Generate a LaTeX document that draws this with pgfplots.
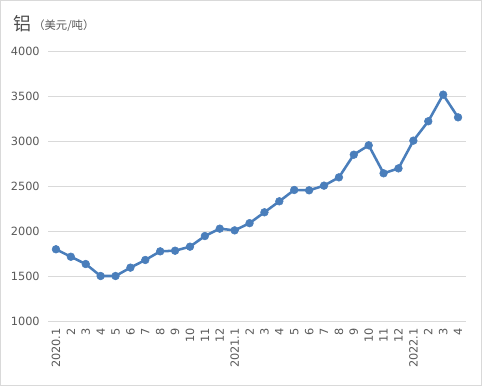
\documentclass[border=0pt]{standalone}
\usepackage{pgfplots}
\pgfplotsset{compat=1.18}
\usepackage{fontspec}
\setmainfont{DejaVu Sans}
\newfontfamily\cjk{Noto Sans CJK SC}
\definecolor{lineblue}{RGB}{74,126,187}
\definecolor{gridgray}{RGB}{217,217,217}
\definecolor{ticktext}{RGB}{89,89,89}
\begin{document}
\begin{tikzpicture}
\path[use as bounding box] (0,0) rectangle (361.5pt,289.5pt);
\draw[gridgray, line width=0.75pt] (0.375pt,0.375pt) rectangle (361.125pt,289.125pt);
\node[anchor=base west, inner sep=0pt, text=black!70] at (9.75pt,266.5pt) {\cjk\fontsize{13.5pt}{15pt}\selectfont 铝};
\node[anchor=base west, inner sep=0pt, text=ticktext] at (24.75pt,267pt) {\cjk\fontsize{8.5pt}{10pt}\selectfont （美元/吨）};
\begin{axis}[
  at={(36.375pt,48.75pt)}, anchor=south west,
  scale only axis,
  width=312.75pt, height=202.5pt,
  xmin=-0.5, xmax=27.5,
  ymin=1000, ymax=4000,
  ytick={1000,1500,...,4000},
  xtick={0,...,27},
  xticklabels={2020.1,2,3,4,5,6,7,8,9,10,11,12,2021.1,2,3,4,5,6,7,8,9,10,11,12,2022.1,2,3,4},
  axis line style={draw=none},
  major tick length=0pt,
  ymajorgrids, grid style={gridgray, line width=0.75pt},
  tick label style={font=\fontsize{8.5pt}{10pt}\selectfont, text=ticktext},
  /pgf/number format/assume math mode=true,
  /pgf/number format/1000 sep={},
  yticklabel style={anchor=east, inner sep=0pt, xshift=-6.4pt},
  xticklabel style={rotate=90, anchor=east, inner sep=0pt, xshift=-5.25pt},
  clip=false,
]
\addplot[lineblue, line width=1.9pt, mark=*, mark size=2.9pt, mark options={solid, fill=lineblue, draw=lineblue, line width=0.4pt}] coordinates {
(0,1797) (1,1714) (2,1633) (3,1500) (4,1500) (5,1593) (6,1678) (7,1774) (8,1781) (9,1826) (10,1944) (11,2026)
(12,2007) (13,2087) (14,2208) (15,2330) (16,2456) (17,2452) (18,2504) (19,2596) (20,2848) (21,2952) (22,2641) (23,2696)
(24,3004) (25,3219) (26,3515) (27,3263)
};
\end{axis}
\end{tikzpicture}
\end{document}
